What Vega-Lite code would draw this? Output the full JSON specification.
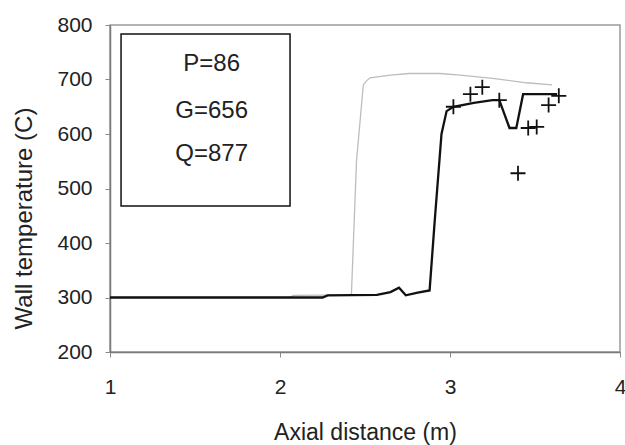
{
  "$schema": "https://vega.github.io/schema/vega-lite/v6.json",
  "width": 510,
  "height": 327,
  "autosize": {"type": "none"},
  "padding": {"left": 110, "top": 25, "right": 5, "bottom": 93},
  "background": "white",
  "config": {
    "view": {"stroke": "#9a9a9a", "strokeWidth": 1.5},
    "font": "Liberation Sans"
  },
  "datasets": {
    "sim_gray": [
      {"x": 1.0, "t": 300}, {"x": 2.05, "t": 300}, {"x": 2.08, "t": 304},
      {"x": 2.42, "t": 305}, {"x": 2.45, "t": 550}, {"x": 2.49, "t": 690},
      {"x": 2.51, "t": 698}, {"x": 2.53, "t": 703}, {"x": 2.65, "t": 708},
      {"x": 2.76, "t": 711}, {"x": 2.94, "t": 711}, {"x": 3.06, "t": 708},
      {"x": 3.25, "t": 702}, {"x": 3.45, "t": 694}, {"x": 3.60, "t": 690}
    ],
    "sim_black": [
      {"x": 1.0, "t": 300}, {"x": 2.25, "t": 300}, {"x": 2.28, "t": 304},
      {"x": 2.57, "t": 305}, {"x": 2.65, "t": 310}, {"x": 2.70, "t": 318},
      {"x": 2.74, "t": 304}, {"x": 2.81, "t": 309}, {"x": 2.88, "t": 313},
      {"x": 2.91, "t": 440}, {"x": 2.95, "t": 600}, {"x": 2.98, "t": 642},
      {"x": 3.02, "t": 650}, {"x": 3.14, "t": 657}, {"x": 3.25, "t": 662},
      {"x": 3.29, "t": 662}, {"x": 3.35, "t": 611}, {"x": 3.39, "t": 611},
      {"x": 3.43, "t": 673}, {"x": 3.63, "t": 673}
    ],
    "measured": [
      {"x": 3.02, "t": 650}, {"x": 3.12, "t": 673}, {"x": 3.19, "t": 686},
      {"x": 3.29, "t": 662}, {"x": 3.40, "t": 528}, {"x": 3.46, "t": 611},
      {"x": 3.51, "t": 613}, {"x": 3.58, "t": 653}, {"x": 3.64, "t": 670}
    ],
    "box": [{"x1": 1.065, "x2": 2.059, "t1": 468, "t2": 783.5}],
    "labels": [
      {"x": 1.598, "t": 716, "label": "P=86"},
      {"x": 1.598, "t": 629, "label": "G=656"},
      {"x": 1.598, "t": 550, "label": "Q=877"}
    ]
  },
  "layer": [
    {
      "data": {"name": "sim_gray"},
      "mark": {"type": "line", "color": "#bdbdbd", "strokeWidth": 1.3},
      "encoding": {
        "x": {
          "field": "x", "type": "quantitative",
          "scale": {"domain": [1, 4], "nice": false},
          "axis": {
            "values": [1, 2, 3, 4], "format": "d", "grid": false,
            "title": "Axial distance (m)", "titleFontSize": 23, "titleFontWeight": "normal",
            "titleColor": "#222222", "titleBaseline": "alphabetic", "titleY": 87,
            "labelFontSize": 21, "labelColor": "#222222", "labelBaseline": "alphabetic",
            "labelPadding": 36, "tickSize": 5, "tickColor": "#8a8a8a",
            "domainColor": "#7a7a7a", "domainWidth": 1.5, "labelFlush": false
          }
        },
        "y": {
          "field": "t", "type": "quantitative",
          "scale": {"domain": [200, 800], "nice": false},
          "axis": {
            "values": [200, 300, 400, 500, 600, 700, 800], "format": "d", "grid": false,
            "title": "Wall temperature (C)", "titleFontSize": 24, "titleFontWeight": "normal",
            "titleColor": "#222222", "titleY": 193, "titleX": -74,
            "labelFontSize": 21, "labelColor": "#222222", "labelPadding": 13,
            "tickSize": 5, "tickColor": "#8a8a8a",
            "domainColor": "#7a7a7a", "domainWidth": 1.5, "labelFlush": false
          }
        }
      }
    },
    {
      "data": {"name": "sim_black"},
      "mark": {"type": "line", "color": "#111111", "strokeWidth": 2.3},
      "encoding": {
        "x": {"field": "x", "type": "quantitative"},
        "y": {"field": "t", "type": "quantitative"}
      }
    },
    {
      "data": {"name": "measured"},
      "mark": {"type": "point", "shape": "M-1,0L1,0M0,-1L0,1", "size": 225, "stroke": "#111111", "strokeWidth": 1.8, "filled": false, "opacity": 1},
      "encoding": {
        "x": {"field": "x", "type": "quantitative"},
        "y": {"field": "t", "type": "quantitative"}
      }
    },
    {
      "data": {"name": "box"},
      "mark": {"type": "rect", "fill": "white", "stroke": "#111111", "strokeWidth": 1.5},
      "encoding": {
        "x": {"field": "x1", "type": "quantitative"},
        "x2": {"field": "x2"},
        "y": {"field": "t1", "type": "quantitative"},
        "y2": {"field": "t2"}
      }
    },
    {
      "data": {"name": "labels"},
      "mark": {"type": "text", "fontSize": 24, "align": "center", "baseline": "alphabetic", "color": "#222222"},
      "encoding": {
        "x": {"field": "x", "type": "quantitative"},
        "y": {"field": "t", "type": "quantitative"},
        "text": {"field": "label"}
      }
    }
  ]
}
